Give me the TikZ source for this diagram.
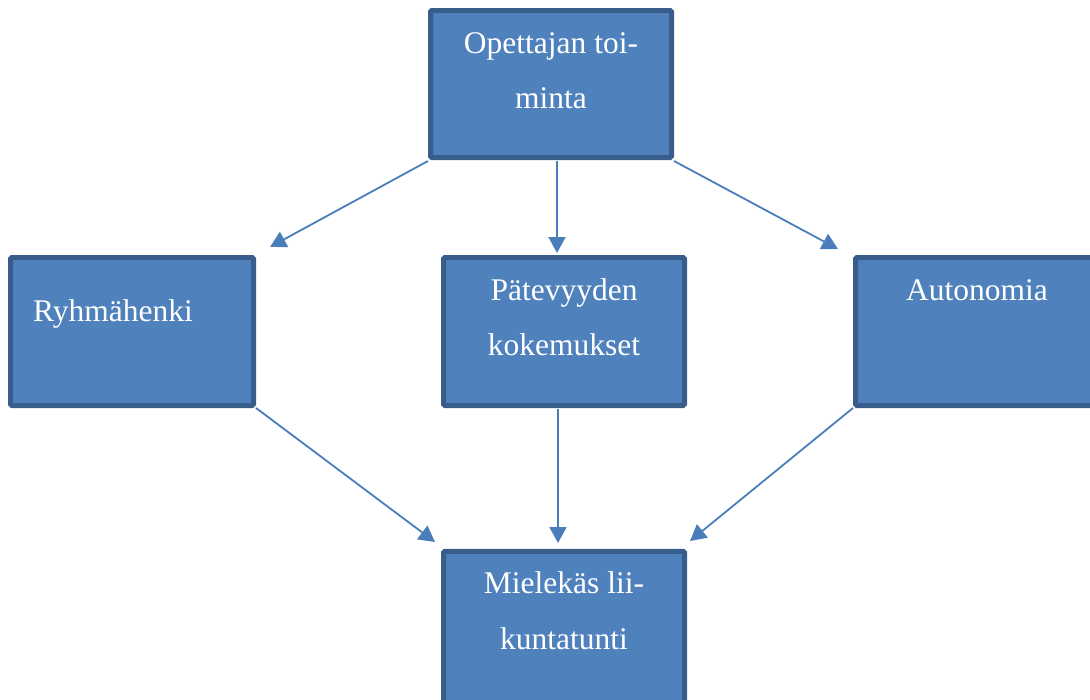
\documentclass[tikz,border=0pt]{standalone}
\usepackage{fontspec}
\setmainfont{Liberation Serif}
\usetikzlibrary{arrows.meta,calc}
\definecolor{boxfill}{HTML}{4F81BD}
\definecolor{boxline}{HTML}{385D8A}
\definecolor{arrcol}{HTML}{4A7EBB}
\tikzset{
  box/.style={draw=boxline, fill=boxfill, line width=5pt, rounded corners=1.5pt, inner sep=0pt, rectangle},
  lbl/.style={text=white, anchor=base, inner sep=0pt, font=\fontsize{31.5}{38}\selectfont},
  arr/.style={draw=arrcol, line width=1.8pt, -{Triangle[length=16pt,width=17pt]}}
}
\begin{document}
\begin{tikzpicture}[x=1pt,y=-1pt]
\useasboundingbox (0,0) rectangle (1090,699);
\clip (0,0) rectangle (1090,699);
% boxes
\node[box, minimum width=241pt, minimum height=147pt] (top) at (551,84) {};
\node[box, minimum width=243pt, minimum height=148pt] (left) at (132,331.5) {};
\node[box, minimum width=241pt, minimum height=148pt] (mid) at (564,331.5) {};
\node[box, minimum width=244.5pt, minimum height=148pt] (right) at (977.75,331.5) {};
\node[box, minimum width=241pt, minimum height=159pt] (bot) at (564,630.75) {};
% texts
\node[lbl] (t1) at (551,53) {Opettajan toi-};
\node[lbl] (t2) at (551,108) {minta};
\node[lbl, anchor=base west] (l1) at (33,321) {Ryhmähenki};
\node[lbl] (m1) at (564,300) {Pätevyyden};
\node[lbl] (m2) at (564,355) {kokemukset};
\node[lbl] (r1) at (977,300) {Autonomia};
\node[lbl] (b1) at (564,593) {Mielekäs lii-};
\node[lbl] (b2) at (564,649) {kuntatunti};
% arrow tips
\coordinate (tipL) at (270,247);
\coordinate (tipM) at (557,253);
\coordinate (tipR) at (838,249);
\coordinate (tipBL) at (435,542);
\coordinate (tipBM) at (558,543);
\coordinate (tipBR) at (690,541);
% connectors
\draw[arr] ($(top.south west)+(0,1)$) -- (tipL);
\draw[arr] ($(top.south)+(6,1)$) -- (tipM);
\draw[arr] ($(top.south east)+(0,1)$) -- (tipR);
\draw[arr] ($(left.south east)+(0,0)$) -- (tipBL);
\draw[arr] ($(mid.south)+(-6,1)$) -- (tipBM);
\draw[arr] ($(right.south west)+(0,0)$) -- (tipBR);
\end{tikzpicture}
\end{document}
